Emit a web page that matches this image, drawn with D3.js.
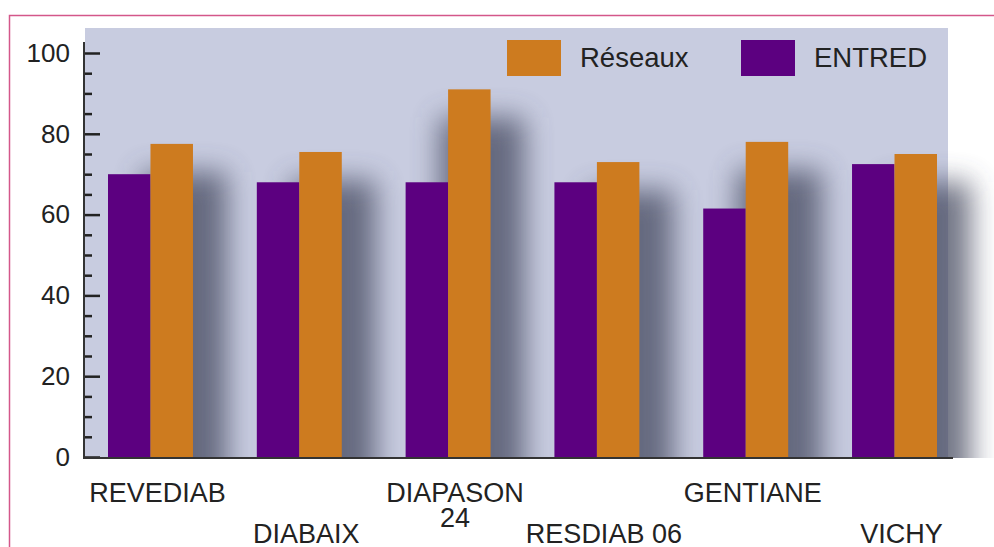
<!DOCTYPE html>
<html>
<head>
<meta charset="utf-8">
<script src="https://cdn.jsdelivr.net/npm/d3@7"></script>
<style>
  body { margin: 0; background: #fff; }
  text { font-family: "Liberation Sans", Arial, sans-serif; }
</style>
</head>
<body>
<svg id="chart"></svg>
<script>
const categories = ['REVEDIAB', 'DIABAIX', 'DIAPASON\n24', 'RESDIAB 06', 'GENTIANE', 'VICHY'];
const entred = [70, 68, 68, 68, 61.5, 72.5];
const reseaux = [77.5, 75.5, 91, 73, 78, 75];
const seriesNames = ['ENTRED', 'Réseaux'];
const majorTicks = [0, 20, 40, 60, 80, 100];

const width = 994;
const height = 547;
const colors = {
    ENTRED: '#5c0080',
    'Réseaux': '#cd7b1f'
};

const svg = d3.select('#chart')
    .attr('width', width)
    .attr('height', height);

const defs = svg.append('defs');
defs.append('filter')
    .attr('id', 'blur')
    .attr('x', '-50%').attr('y', '-50%')
    .attr('width', '200%').attr('height', '200%')
    .append('feGaussianBlur')
    .attr('stdDeviation', 14);
defs.append('clipPath')
    .attr('id', 'plotclip')
    .append('rect')
    .attr('x', 0).attr('y', 0)
    .attr('width', width).attr('height', 458);

// pink frame
svg.append('rect')
    .attr('x', 9.5).attr('y', 15.5)
    .attr('width', 1100).attr('height', 700)
    .attr('fill', 'none')
    .attr('stroke', '#d4578a')
    .attr('stroke-width', 1.5);

const y = d3.scaleLinear().domain([0, 100]).range([457, 53]);
const x = d3.scaleBand()
    .domain(categories)
    .range([108, 937])
    .paddingInner(0.429)
    .paddingOuter(0);
const x1 = d3.scaleBand()
    .domain(seriesNames)
    .range([0, x.bandwidth()]);

// plot background
svg.append('rect')
    .attr('x', 85).attr('y', 28)
    .attr('width', 863).attr('height', 430)
    .attr('fill', '#c8cce0');

const rows = categories.map((c, i) => ({ cat: c, ENTRED: entred[i], 'Réseaux': reseaux[i] }));

// soft shadows behind each group
svg.append('g')
    .attr('clip-path', 'url(#plotclip)')
    .selectAll('rect')
    .data(rows)
    .enter().append('rect')
    .attr('x', d => x(d.cat) + 34)
    .attr('y', d => y(Math.max(d.ENTRED, d['Réseaux'])) + 28)
    .attr('width', x.bandwidth())
    .attr('height', d => 480 - y(Math.max(d.ENTRED, d['Réseaux'])))
    .attr('fill', '#454a5e')
    .attr('opacity', 0.75)
    .attr('filter', 'url(#blur)');

// bars
const groups = svg.append('g')
    .selectAll('g')
    .data(rows)
    .enter().append('g')
    .attr('transform', d => `translate(${x(d.cat)},0)`);

groups.selectAll('rect')
    .data(d => seriesNames.map(k => ({ key: k, value: d[k] })))
    .enter().append('rect')
    .attr('x', d => x1(d.key))
    .attr('y', d => y(d.value))
    .attr('width', x1.bandwidth())
    .attr('height', d => y(0) - y(d.value))
    .attr('fill', d => colors[d.key]);

// y axis: ticks drawn inside
const tickG = svg.append('g')
    .attr('transform', 'translate(84,0)')
    .call(d3.axisRight(y)
        .tickValues(d3.range(0, 101, 5))
        .tickSize(0)
        .tickFormat(''));
tickG.select('.domain').remove();
tickG.selectAll('.tick line')
    .attr('x2', d => d % 20 === 0 ? 16 : 8)
    .attr('stroke', '#222')
    .attr('stroke-width', 2.5);

const labelG = svg.append('g')
    .attr('transform', 'translate(84,0)')
    .call(d3.axisLeft(y)
        .tickValues(majorTicks)
        .tickSize(0)
        .tickPadding(14));
labelG.select('.domain').remove();
labelG.selectAll('text')
    .attr('font-size', 26)
    .attr('font-family', '"Liberation Sans", Arial, sans-serif')
    .attr('fill', '#222');

svg.append('line')
    .attr('x1', 84).attr('x2', 84)
    .attr('y1', 42).attr('y2', 458)
    .attr('stroke', '#333').attr('stroke-width', 2);
svg.append('line')
    .attr('x1', 83).attr('x2', 953)
    .attr('y1', 458).attr('y2', 458)
    .attr('stroke', '#333').attr('stroke-width', 2);

// category labels on two staggered rows, one text per line
const labelLines = [];
categories.forEach((c, i) => {
    c.split('\n').forEach((t, j) => {
        labelLines.push({ cat: c, text: t, row: i % 2, line: j });
    });
});
svg.append('g')
    .selectAll('text')
    .data(labelLines)
    .enter().append('text')
    .attr('text-anchor', 'middle')
    .attr('font-size', 27)
    .attr('fill', '#222')
    .attr('x', d => x(d.cat) + x.bandwidth() / 2 + 7)
    .attr('y', d => (d.row === 0 ? 502 : 543) + d.line * 25)
    .text(d => d.text);

// legend
const legendItems = [
    { key: 'Réseaux', x: 507 },
    { key: 'ENTRED', x: 741 }
];
const legend = svg.append('g')
    .selectAll('g')
    .data(legendItems)
    .enter().append('g')
    .attr('transform', d => `translate(${d.x},40)`);
legend.append('rect')
    .attr('width', 54).attr('height', 36)
    .attr('fill', d => colors[d.key]);
legend.append('text')
    .attr('x', 73).attr('y', 27)
    .attr('font-size', 27.5)
    .attr('fill', '#222')
    .text(d => d.key);
</script>
</body>
</html>
